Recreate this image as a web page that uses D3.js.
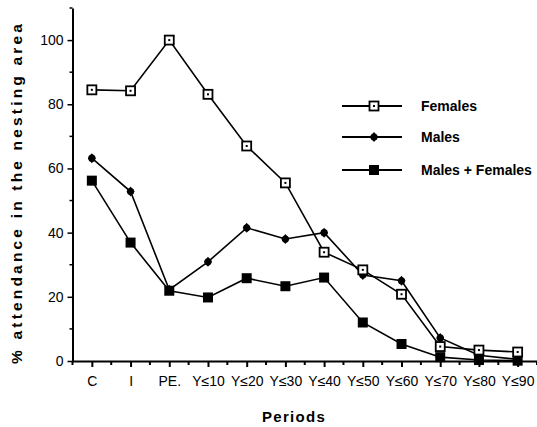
<!DOCTYPE html>
<html>
<head>
<meta charset="utf-8">
<script src="https://cdn.jsdelivr.net/npm/d3@7"></script>
<style>
  html, body { margin: 0; padding: 0; background: #fff; }
  svg { display: block; }
  text { font-family: "Liberation Sans", Arial, Helvetica, sans-serif; fill: #000; }
</style>
</head>
<body>
<svg id="chart" width="537" height="427"></svg>
<script>
const categories = ["C", "I", "PE.", "Y\u226410", "Y\u226420", "Y\u226430", "Y\u226440", "Y\u226450", "Y\u226460", "Y\u226470", "Y\u226480", "Y\u226490"];
const females = [84.5, 84.2, 100, 83.1, 67.0, 55.5, 33.9, 28.4, 20.8, 4.5, 3.4, 2.8];
const males = [63.2, 52.8, 22.2, 30.9, 41.5, 38.0, 40.0, 26.8, 25.0, 7.2, 1.8, 0.5];
const malesFemales = [56.2, 36.9, 21.9, 19.8, 25.8, 23.3, 26.0, 12.0, 5.3, 1.2, 0.3, 0.1];
const yTicks = [0, 20, 40, 60, 80, 100];
const yMinorTicks = [10, 30, 50, 70, 90, 110];
const seriesNames = ["Females", "Males", "Males + Females"];

const svg = d3.select("#chart");

const x = d3.scalePoint().domain(categories).range([72.5, 537]).padding(0.5);
const y = d3.scaleLinear().domain([0, 110]).range([361, 8]);
const step = x.step();

const series = [
  { name: seriesNames[0], values: females, marker: "openSquare" },
  { name: seriesNames[1], values: males, marker: "diamond" },
  { name: seriesNames[2], values: malesFemales, marker: "filledSquare" }
];

// axes
const xAxis = d3.axisBottom(x).tickSize(6).tickPadding(9).tickSizeOuter(0);
const gx = svg.append("g").attr("transform", `translate(0,${y(0)})`).call(xAxis);
gx.select(".domain").attr("stroke", "#000").attr("stroke-width", 2);
gx.selectAll(".tick line").attr("stroke", "#000").attr("stroke-width", 2);
gx.selectAll(".tick text").attr("font-size", 14).attr("fill", "#000");
// minor x ticks (between categories)
const minorX = categories.map(c => x(c) - step / 2).concat([x(categories[categories.length - 1]) + step / 2]);
gx.selectAll(".minor").data(minorX).enter().append("line")
  .attr("x1", d => d).attr("x2", d => d).attr("y1", 0).attr("y2", 4)
  .attr("stroke", "#000").attr("stroke-width", 2);

const yAxis = d3.axisLeft(y).tickValues(yTicks).tickSize(5).tickPadding(4).tickSizeOuter(0);
const gy = svg.append("g").attr("transform", `translate(${x.range()[0]},0)`).call(yAxis);
gy.select(".domain").attr("stroke", "#000").attr("stroke-width", 2);
gy.selectAll(".tick line").attr("stroke", "#000").attr("stroke-width", 1.5);
gy.selectAll(".tick text").attr("font-size", 14).attr("fill", "#000");
gy.selectAll(".minor").data(yMinorTicks).enter().append("line")
  .attr("x1", -3).attr("x2", 0).attr("y1", d => y(d)).attr("y2", d => y(d))
  .attr("stroke", "#000").attr("stroke-width", 1.5);

// lines
const line = d3.line().x((d, i) => x(categories[i])).y(d => y(d));
series.forEach(s => {
  svg.append("path").datum(s.values).attr("d", line)
    .attr("fill", "none").attr("stroke", "#000").attr("stroke-width", 1.6);
});

function drawMarker(g, type, cx, cy) {
  if (type === "openSquare") {
    g.append("rect").attr("x", cx - 4.5).attr("y", cy - 4.5).attr("width", 9).attr("height", 9)
      .attr("fill", "#fff").attr("stroke", "#000").attr("stroke-width", 1.8);
    g.append("rect").attr("x", cx - 1).attr("y", cy - 1).attr("width", 2).attr("height", 2).attr("fill", "#000");
  } else if (type === "diamond") {
    g.append("path").attr("d", `M${cx},${cy - 5}L${cx + 4},${cy}L${cx},${cy + 5}L${cx - 4},${cy}Z`)
      .attr("fill", "#000");
    g.append("circle").attr("cx", cx).attr("cy", cy).attr("r", 3.6).attr("fill", "#000");
  } else {
    g.append("rect").attr("x", cx - 5).attr("y", cy - 5).attr("width", 10).attr("height", 10).attr("fill", "#000");
  }
}

// markers (draw in reverse so females on top)
[series[2], series[1], series[0]].forEach(s => {
  const g = svg.append("g");
  s.values.forEach((v, i) => drawMarker(g, s.marker, x(categories[i]), y(v)));
});

// legend
const legendY = [106, 137, 170];
series.forEach((s, i) => {
  const g = svg.append("g");
  g.append("line").attr("x1", 342).attr("x2", 402).attr("y1", legendY[i]).attr("y2", legendY[i])
    .attr("stroke", "#000").attr("stroke-width", 1.8);
  drawMarker(g, s.marker, 374, legendY[i]);
  g.append("text").attr("x", 421).attr("y", legendY[i] + 5).attr("font-size", 14)
    .attr("font-weight", "bold").text(s.name);
});

// axis titles
svg.append("text").attr("x", 294).attr("y", 422).attr("text-anchor", "middle")
  .attr("font-size", 15).attr("font-weight", "bold").attr("letter-spacing", 1.3).text("Periods");
svg.append("text").attr("transform", "translate(22,194) rotate(-90)").attr("text-anchor", "middle")
  .attr("font-size", 15.5).attr("font-weight", "bold")
  .attr("textLength", 340).attr("lengthAdjust", "spacing")
  .text("% attendance in the nesting area");
</script>
</body>
</html>
